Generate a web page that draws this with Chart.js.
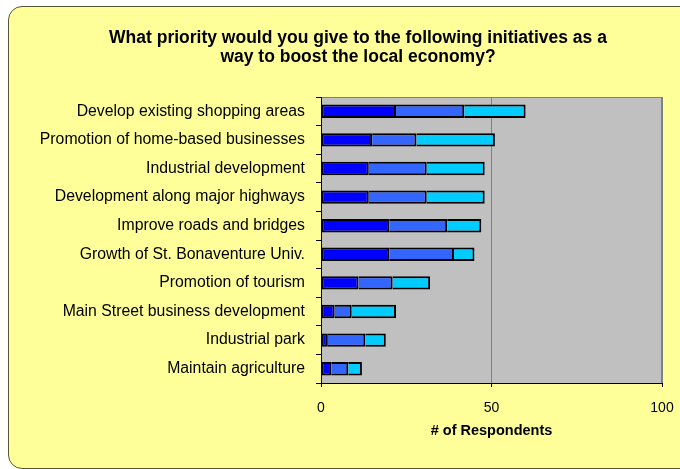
<!DOCTYPE html>
<html>
<head>
<meta charset="utf-8">
<script src="https://cdn.jsdelivr.net/npm/chart.js@4/dist/chart.umd.min.js"></script>
<style>
    html, body {
        margin: 0;
        padding: 0;
        background: #ffffff;
        overflow: hidden;
    }
    #frame {
        position: absolute;
        left: 8px;
        top: 6px;
        width: 690px;
        height: 461px;
        background: #ffff99;
        border: 1px solid #555533;
        border-radius: 14px;
    }
    #chart {
        position: absolute;
        left: 0;
        top: 0;
    }
</style>
</head>
<body>
<div id="frame"></div>
<canvas id="chart" width="680" height="469"></canvas>
<script>
const categories = [
    "Develop existing shopping areas",
    "Promotion of home-based businesses",
    "Industrial development",
    "Development along major highways",
    "Improve roads and bridges",
    "Growth of St. Bonaventure Univ.",
    "Promotion of tourism",
    "Main Street business development",
    "Industrial park",
    "Maintain agriculture",
];

// three priority levels
const seriesA = [22, 15, 14, 14, 20, 20, 11, 4, 2, 3];
const seriesB = [20, 13, 17, 17, 17, 19, 10, 5, 11, 5];
const seriesC = [18, 23, 17, 17, 10, 6, 11, 13, 6, 4];

const xTicks = [0, 50, 100];

const titleLines = [
    "What priority would you give to the following initiatives as a",
    "way to boost the local economy?",
];
const xTitle = "# of Respondents";

Chart.defaults.font.family = "'Liberation Sans', Arial, sans-serif";
Chart.defaults.color = "#000000";

const plotBackground = {
    id: "plotBackground",
    beforeDraw(chart) {
        const { ctx, chartArea } = chart;
        ctx.save();
        ctx.fillStyle = "#c0c0c0";
        ctx.fillRect(chartArea.left, chartArea.top, chartArea.width, chartArea.height);
        ctx.strokeStyle = "#808080";
        ctx.lineWidth = 1;
        ctx.strokeRect(chartArea.left + 0.5, chartArea.top + 0.5, chartArea.width - 1, chartArea.height);
        ctx.restore();
    },
};

function makeSet(label, data, color, skipped) {
    return {
        label,
        data,
        backgroundColor: color,
        borderColor: "#000000",
        borderWidth: 2,
        borderSkipped: skipped,
        categoryPercentage: 1,
        barPercentage: 0.47,
    };
}

const ctx = document.getElementById("chart").getContext("2d");

new Chart(ctx, {
    type: "bar",
    data: {
        labels: categories,
        datasets: [
            makeSet("A", seriesA, "#0000ff", false),
            makeSet("B", seriesB, "#3366ff", "start"),
            makeSet("C", seriesC, "#00ccff", "start"),
        ],
    },
    options: {
        indexAxis: "y",
        responsive: false,
        devicePixelRatio: 1,
        animation: false,
        layout: {
            padding: { left: 36, right: 0, top: 0, bottom: 29 },
        },
        plugins: {
            legend: { display: false },
            tooltip: { enabled: false },
            title: {
                display: true,
                text: titleLines,
                color: "#000000",
                font: { size: 17.5, weight: "bold", lineHeight: "19px" },
                padding: { top: 29, bottom: 30 },
            },
        },
        scales: {
            x: {
                stacked: true,
                min: 0,
                max: 100,
                afterBuildTicks(scale) {
                    scale.ticks = xTicks.map((v) => ({ value: v }));
                },
                afterFit(scale) {
                    scale.height = 57;
                    scale.paddingLeft = 0;
                    scale.paddingRight = 18;
                },
                grid: {
                    color: "#808080",
                    tickColor: "#000000",
                    tickLength: 4,
                },
                border: { color: "#000000", width: 1 },
                ticks: {
                    padding: 13,
                    font: { size: 14 },
                    color: "#000000",
                },
                title: {
                    display: true,
                    text: xTitle,
                    color: "#000000",
                    font: { size: 14.5, weight: "bold" },
                    padding: { top: 6, bottom: 0 },
                },
            },
            y: {
                stacked: true,
                afterFit(scale) {
                    scale.width = 285;
                },
                grid: {
                    drawOnChartArea: false,
                    tickColor: "#000000",
                    tickLength: 5,
                    offset: true,
                },
                border: { color: "#000000", width: 1 },
                ticks: {
                    padding: 11,
                    font: { size: 15.8 },
                    color: "#000000",
                },
            },
        },
    },
    plugins: [plotBackground],
});
</script>
</body>
</html>
